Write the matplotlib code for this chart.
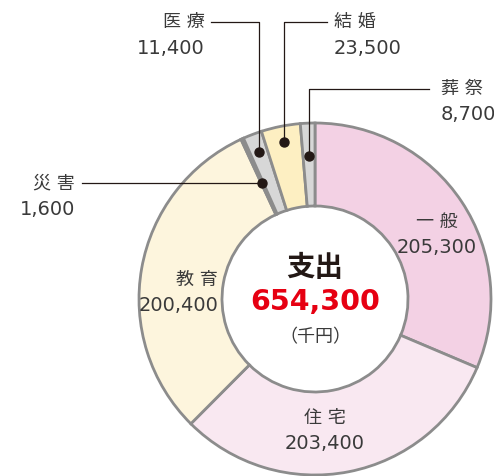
import numpy as np
import matplotlib
matplotlib.use("Agg")
import matplotlib.pyplot as plt

plt.rcParams["font.family"] = ["DejaVu Sans", "Noto Sans CJK JP"]

# data (千円)
labels = ["一般", "住宅", "教育", "災害", "医療", "結婚", "葬祭"]
values = [205300, 203400, 200400, 1600, 11400, 23500, 8700]
colors = ["#f3d1e4", "#f9e8f1", "#fdf5dd", "#a3a3a3", "#d7d7d7", "#fdefc2", "#d7d7d7"]
total_label = "654,300"

W, H = 494, 477
CX, CY = 315, 300
R_OUT, R_IN = 176, 93
EDGE = "#8c8c8c"
TXT = "#3a3a3a"
INK = "#231815"

fig = plt.figure(figsize=(W / 100, H / 100), dpi=100)
ax = fig.add_axes([0, 0, 1, 1])

# y axis inverted -> visual clockwise from top = counterclock in data
wedges, _ = ax.pie(values, colors=colors, startangle=-90, counterclock=True,
                   center=(CX, CY), radius=R_OUT,
                   wedgeprops=dict(width=R_OUT - R_IN, edgecolor=EDGE, linewidth=2.0))
ax.set_xlim(0, W)
ax.set_ylim(H, 0)
ax.set_aspect("auto")
ax.axis("off")


def fmt(v):
    return f"{v:,}"


def spaced(s):
    return " ".join(s)


# inner labels
inner = {"一般": (437, 222, "center"), "住宅": (325, 418, "center"), "教育": (218, 280, "right")}
for name, (x, y, ha) in inner.items():
    v = values[labels.index(name)]
    ax.text(x, y, spaced(name), ha=ha, va="center", fontsize=13, color=TXT)
    ax.text(x, y + 26, fmt(v), ha=ha, va="center", fontsize=14, color=TXT)

# leader lines for the small segments
frac = np.cumsum([0] + values) / sum(values)
leaders = {
    # name: (dot radius, elbow y or None, end x, text x, text ha)
    "医療": (157, 23, 211, 205, "right"),
    "結婚": (160, 23, 327, 334, "left"),
    "葬祭": (143, 90, 429, 441, "left"),
    "災害": (127, None, 82, 75, "right"),
}
for name, (r, ey, ex, tx, ha) in leaders.items():
    i = labels.index(name)
    th = np.deg2rad((frac[i] + frac[i + 1]) / 2 * 360)
    dx, dy = CX + r * np.sin(th), CY - r * np.cos(th)
    if ey is None:
        ax.plot([dx, ex], [dy, dy], color=INK, lw=0.9, zorder=4)
        ty = dy
    else:
        ax.plot([dx, dx, ex], [dy, ey, ey], color=INK, lw=0.9, zorder=4)
        ty = ey
    ax.scatter([dx], [dy], s=42, color=INK, zorder=5)
    ax.text(tx, ty - 1, spaced(name), ha=ha, va="center", fontsize=13, color=TXT)
    ax.text(tx, ty + 25, fmt(values[i]), ha=ha, va="center", fontsize=14, color=TXT)

# centre
ax.text(CX, 268, "支出", ha="center", va="center", fontsize=20.5, fontweight="bold", color="#231815",
        family=["Noto Sans CJK JP"])
ax.text(CX, 302, total_label, ha="center", va="center", fontsize=20.5, fontweight="bold", color="#e60012")
ax.text(CX, 337, "（千円）", ha="center", va="center", fontsize=13, color=TXT,
        family=["Noto Sans CJK JP"])

fig.savefig("out.png", dpi=100)
